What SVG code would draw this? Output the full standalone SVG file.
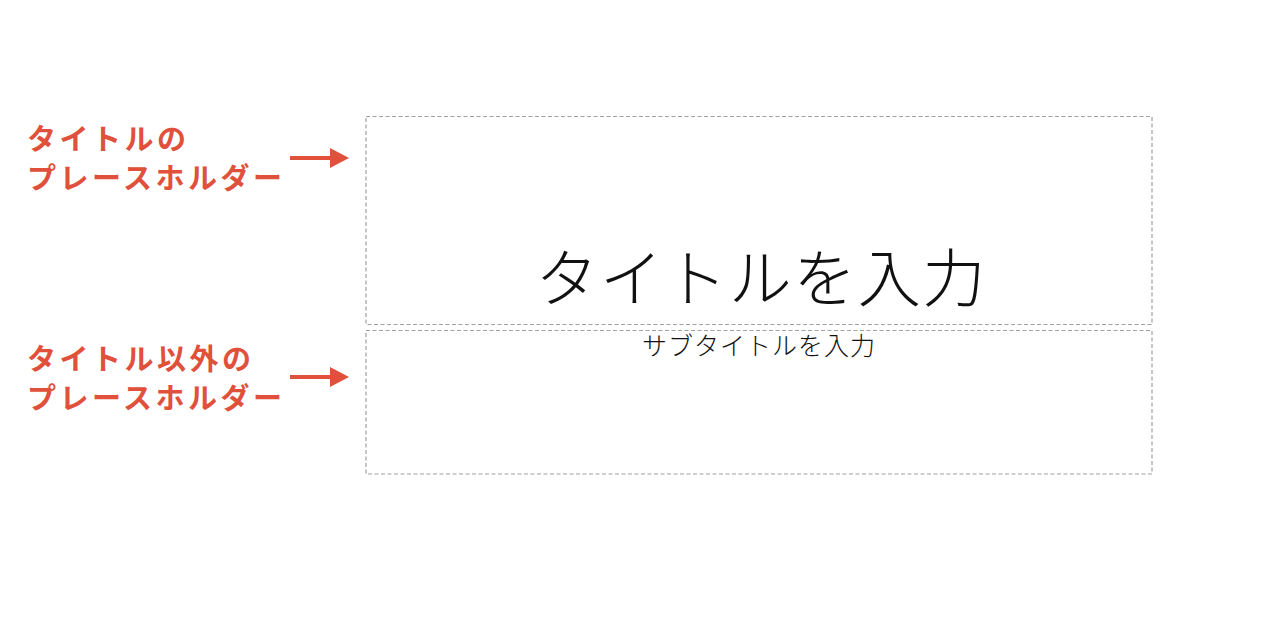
<svg xmlns="http://www.w3.org/2000/svg" width="1280" height="631" viewBox="0 0 1280 631">
<defs>
<style>
.ph{fill:none;stroke:#a0a0a0;stroke-width:1.2;stroke-dasharray:4 2.5}
.lbl{font-family:"Noto Sans CJK JP","Noto Sans CJK SC",sans-serif;font-weight:bold;font-size:29px;fill:#e0503a;letter-spacing:3.5px}
.arr{stroke:#e0503a;stroke-width:4}
.head{fill:#e0503a}
.t{font-family:"Noto Sans CJK JP",sans-serif;font-weight:300;fill:#111;text-anchor:middle}
</style>
</defs>
<rect width="1280" height="631" fill="#fff"/>
<g id="title-placeholder">
<rect class="ph" x="366" y="116.5" width="786" height="208"/>
<text class="t" x="761" y="301" font-size="63" letter-spacing="1.5">タイトルを入力</text>
</g>
<g id="subtitle-placeholder">
<rect class="ph" x="366" y="330.5" width="786" height="143.5"/>
<text class="t" x="759" y="355" font-size="25" letter-spacing="1">サブタイトルを入力</text>
</g>
<g id="label-title">
<text class="lbl" x="27" y="150">タイトルの</text>
<text class="lbl" x="27" y="189">プレースホルダー</text>
</g>
<g id="label-other">
<text class="lbl" x="27" y="370">タイトル以外の</text>
<text class="lbl" x="27" y="409">プレースホルダー</text>
</g>
<g id="connectors">
<line class="arr" x1="290" y1="158" x2="332" y2="158"/>
<polygon class="head" points="330,148 349,158 330,168"/>
<line class="arr" x1="290" y1="377" x2="332" y2="377"/>
<polygon class="head" points="330,367 349,377 330,387"/>
</g>
</svg>
